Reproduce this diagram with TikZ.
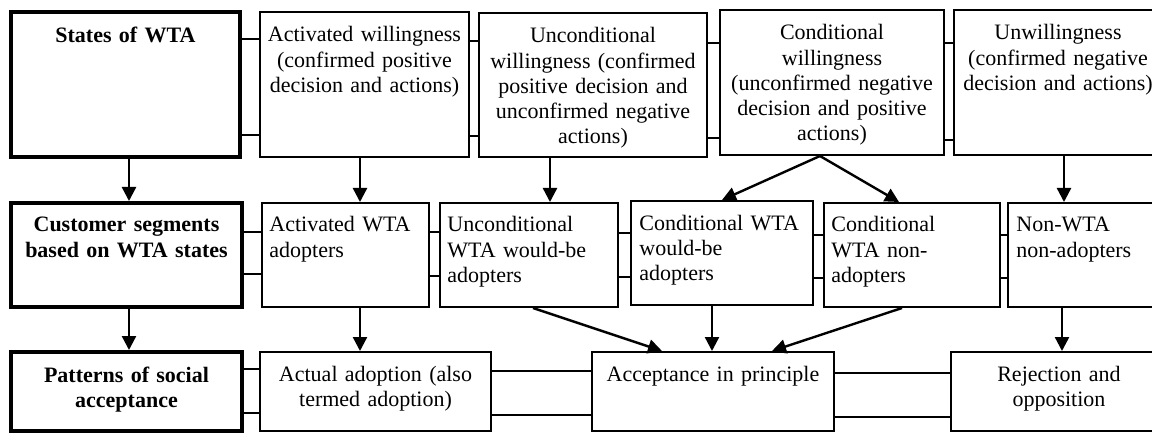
\documentclass[tikz,border=0pt]{standalone}
\usepackage{fontspec}
\setmainfont{Liberation Serif}
\usetikzlibrary{fit,arrows.meta}
\begin{document}
\begin{tikzpicture}[x=0.5pt,y=-0.5pt,
  box/.style={draw, line width=1pt, inner sep=0pt, rectangle},
  hbox/.style={draw, line width=2pt, inner sep=0pt, rectangle},
  txt/.style={inner sep=0pt, align=center, font=\fontsize{11pt}{12.6pt}\selectfont},
  ltxt/.style={txt, align=left, text width=92pt},
  btxt/.style={txt, font=\fontsize{11pt}{12.6pt}\selectfont\bfseries},
  con/.style={line width=0.9pt},
  arr/.style={line width=1.2pt, -{Triangle[length=7pt,width=7pt]}}]
\useasboundingbox (0,0) rectangle (1152,433);

% Row 1
\node[hbox, fit={(11,12) (240,157)}] (s1) {};
\node[box, fit={(260,12) (469,157)}] (a1) {};
\node[box, fit={(479,13) (707,157)}] (u1) {};
\node[box, fit={(720,10) (944,155)}] (c1) {};
\node[box, fit={(954,10) (1162,155)}] (w1) {};

% Row 2
\node[hbox, fit={(11,203) (242,307)}] (s2) {};
\node[box, fit={(262,203) (429,307)}] (a2) {};
\node[box, fit={(440,203) (618,307)}] (u2) {};
\node[box, fit={(631,201) (813,305)}] (c2) {};
\node[box, fit={(824,203) (1000,307)}] (n2) {};
\node[box, fit={(1008,203) (1162,307)}] (w2) {};

% Row 3
\node[hbox, fit={(11,352) (242,431)}] (s3) {};
\node[box, fit={(260,352) (491,431)}] (a3) {};
\node[box, fit={(592,352) (834,431)}] (p3) {};
\node[box, fit={(951,352) (1167,431)}] (r3) {};

% Texts row 1
\node[btxt, text width=112pt, anchor=base] (s1t) at ([yshift=-16.5pt]s1.north) {States of WTA};
\node[txt, text width=104pt, anchor=base] (a1t) at ([yshift=-15.5pt]a1.north) {Activated willingness\\(confirmed positive\\decision and actions)};
\node[txt, text width=112pt, anchor=base] (u1t) at ([yshift=-15.5pt]u1.north) {Unconditional\\willingness (confirmed\\positive decision and\\unconfirmed negative\\actions)};
\node[txt, text width=111pt, anchor=base] (c1t) at ([yshift=-15.5pt]c1.north) {Conditional\\willingness\\(unconfirmed negative\\decision and positive\\actions)};
\node[txt, text width=102pt, anchor=base] (w1t) at ([yshift=-15.5pt]w1.north) {Unwillingness\\(confirmed negative\\decision and actions)};

% Texts row 2
\node[btxt, text width=114pt, anchor=base] (s2t) at ([yshift=-15.5pt]s2.north) {Customer segments\\based on WTA states};
\node[ltxt, anchor=base west] (a2t) at ([xshift=4pt,yshift=-15pt]a2.north west) {Activated WTA\\adopters};
\node[ltxt, anchor=base west] (u2t) at ([xshift=4pt,yshift=-15pt]u2.north west) {Unconditional\\WTA would-be\\adopters};
\node[ltxt, anchor=base west] (c2t) at ([xshift=4.5pt,yshift=-15pt]c2.north west) {Conditional WTA\\would-be\\adopters};
\node[ltxt, anchor=base west] (n2t) at ([xshift=4pt,yshift=-15pt]n2.north west) {Conditional\\WTA non-\\adopters};
\node[ltxt, anchor=base west] (w2t) at ([xshift=4.5pt,yshift=-15pt]w2.north west) {Non-WTA\\non-adopters};

% Texts row 3
\node[btxt, text width=114pt, anchor=base] (s3t) at ([yshift=-16pt]s3.north) {Patterns of social\\acceptance};
\node[txt, text width=114pt, anchor=base] (a3t) at ([yshift=-15pt]a3.north) {Actual adoption (also\\termed adoption)};
\node[txt, text width=120pt, anchor=base] (p3t) at ([yshift=-15pt]p3.north) {Acceptance in principle};
\node[txt, text width=106pt, anchor=base] (r3t) at ([yshift=-15pt]r3.north) {Rejection and\\opposition};

% Connectors row 1
\draw[con] (s1.east |- 0,39) -- (a1.west |- 0,39);
\draw[con] (s1.east |- 0,135) -- (a1.west |- 0,135);
\draw[con] (a1.east |- 0,41) -- (u1.west |- 0,41);
\draw[con] (a1.east |- 0,136) -- (u1.west |- 0,136);
\draw[con] (u1.east |- 0,43) -- (c1.west |- 0,43);
\draw[con] (u1.east |- 0,138) -- (c1.west |- 0,138);
\draw[con] (c1.east |- 0,43) -- (w1.west |- 0,43);
\draw[con] (c1.east |- 0,140) -- (w1.west |- 0,140);

% Connectors row 2
\draw[con] (s2.east |- 0,232) -- (a2.west |- 0,232);
\draw[con] (s2.east |- 0,274) -- (a2.west |- 0,274);
\draw[con] (a2.east |- 0,232) -- (u2.west |- 0,232);
\draw[con] (a2.east |- 0,276) -- (u2.west |- 0,276);
\draw[con] (u2.east |- 0,233) -- (c2.west |- 0,233);
\draw[con] (u2.east |- 0,277) -- (c2.west |- 0,277);
\draw[con] (c2.east |- 0,235) -- (n2.west |- 0,235);
\draw[con] (c2.east |- 0,278) -- (n2.west |- 0,278);
\draw[con] (n2.east |- 0,235) -- (w2.west |- 0,235);
\draw[con] (n2.east |- 0,278) -- (w2.west |- 0,278);

% Connectors row 3
\draw[con] (s3.east |- 0,369) -- (a3.west |- 0,369);
\draw[con] (s3.east |- 0,413) -- (a3.west |- 0,413);
\draw[con] (a3.east |- 0,371) -- (p3.west |- 0,371);
\draw[con] (a3.east |- 0,415) -- (p3.west |- 0,415);
\draw[con] (p3.east |- 0,373) -- (r3.west |- 0,373);
\draw[con] (p3.east |- 0,417) -- (r3.west |- 0,417);

% Arrows row 1 -> row 2
\draw[arr] (s1.south -| 129,0) -- (s2.north -| 129,0);
\draw[arr] (a1.south -| 360,0) -- (a2.north -| 360,0);
\draw[arr] (u1.south -| 550,0) -- (u2.north -| 550,0);
\draw[arr] (c1.south -| 820,0) -- (c2.north -| 722,0);
\draw[arr] (c1.south -| 820,0) -- (n2.north -| 899,0);
\draw[arr] (w1.south -| 1064,0) -- (w2.north -| 1064,0);

% Arrows row 2 -> row 3
\draw[arr] (s2.south -| 129,0) -- (s3.north -| 129,0);
\draw[arr] (a2.south -| 360,0) -- (a3.north -| 360,0);
\draw[arr] (u2.south -| 533,0) -- (p3.north -| 662,0);
\draw[arr] (c2.south -| 712,0) -- (p3.north -| 712,0);
\draw[arr] (n2.south -| 902,0) -- (p3.north -| 772,0);
\draw[arr] (w2.south -| 1062,0) -- (r3.north -| 1062,0);
\end{tikzpicture}
\end{document}
